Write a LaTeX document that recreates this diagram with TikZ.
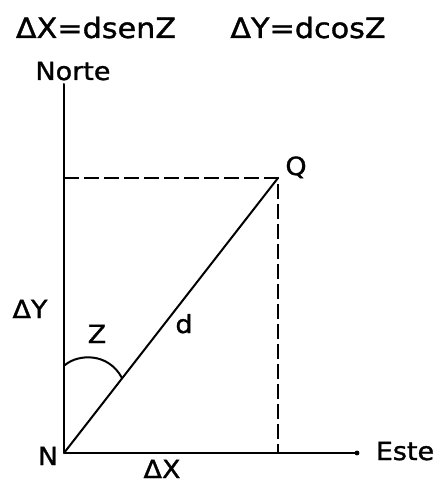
\documentclass[tikz,border=0pt]{standalone}
\usepackage{fontspec}
\setmainfont{DejaVu Sans}[FakeStretch=1.08,FakeBold=1.2]
\begin{document}
\begin{tikzpicture}[x=1bp,y=-1bp,
  axis/.style={line width=2bp, line cap=round, line join=round},
  dashline/.style={line width=2bp, dash pattern=on 15bp off 5bp},
  lbl/.style={inner sep=0pt, anchor=base, font=\fontsize{25bp}{28bp}\selectfont},
  head/.style={inner sep=0pt, anchor=base, font=\fontsize{28bp}{31bp}\selectfont}]
\useasboundingbox (0,0) rectangle (436,485);
\fill[white] (0,0) rectangle (436,485);
% points
\coordinate (N) at (64,453);
\coordinate (top) at (64,84);
\coordinate (east) at (357,453);
\coordinate (Q) at (278,178);
\coordinate (qy) at (64,178);
\coordinate (qx) at (278,453);
\coordinate (arcA) at (65,365);
\coordinate (arcB) at (122,378);
% lines
\draw[axis] (top) -- (N) -- (east);
\fill (east) circle (2.4bp);
\draw[axis] (N) -- (Q);
\draw[dashline] (qy) -- (Q) -- (qx);
\draw[axis] (arcA) .. controls (78,354) and (108,352) .. (arcB);
% texts
\node[head] (fx) at (96,38) {ΔX=dsenZ};
\node[head] (fy) at (308,38) {ΔY=dcosZ};
\node[lbl] (norte) at (73,80) {Norte};
\node[lbl] (lq) at (296,175) {Q};
\node[lbl] (ldy) at (30,318) {ΔY};
\node[lbl] (lz) at (97,343) {Z};
\node[lbl] (ld) at (184,333) {d};
\node[lbl] (ln) at (48,465) {N};
\node[lbl] (ldx) at (162,478) {ΔX};
\node[lbl] (leste) at (405,460) {Este};
\end{tikzpicture}
\end{document}
